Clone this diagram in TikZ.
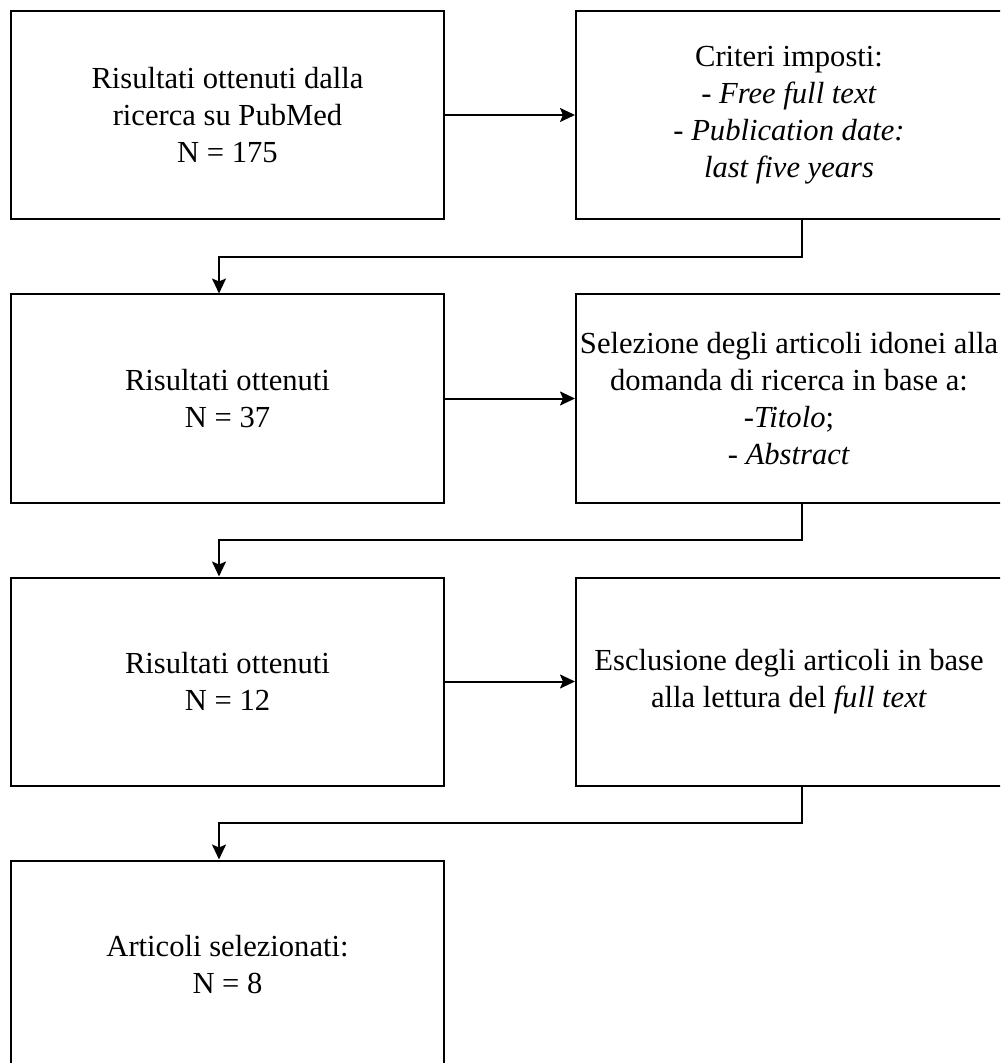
\documentclass[tikz,border=0pt]{standalone}
\usepackage{fontspec}
\setmainfont{Liberation Serif}
\usetikzlibrary{arrows.meta}
\begin{document}
\begin{tikzpicture}[x=0.5pt,y=-0.5pt,
  box/.style={draw,line width=1pt,rectangle,inner sep=0pt,align=center,
    font=\fontsize{15.3}{18.5}\selectfont,minimum height=104pt},
  lbox/.style={box,minimum width=216.5pt},
  rbox/.style={box,minimum width=213pt},
  arr/.style={draw,line width=1pt,-{Stealth[length=7.5pt,width=7pt,inset=1.5pt]}}]
\useasboundingbox (0,0) rectangle (1000,1063);
\clip (0,0) rectangle (1000,1063);
\node[lbox] (a1) at (227.5,115) {Risultati ottenuti dalla\\ricerca su PubMed\\N = 175};
\node[rbox] (b1) at (789,115) {Criteri imposti:\\\textit{- Free full text}\\\textit{- Publication date:}\\\textit{last five years}};
\node[lbox] (a2) at (227.5,398.5) {Risultati ottenuti\\N = 37};
\node[rbox] (b2) at (789,398.5) {Selezione degli articoli idonei alla\\domanda di ricerca in base a:\\\textit{-Titolo};\\\textit{- Abstract}};
\node[lbox] (a3) at (227.5,681.5) {Risultati ottenuti\\N = 12};
\node[rbox] (b3) at (789,681.5) {Esclusione degli articoli in base\\alla lettura del \textit{full text}};
\node[lbox] (a4) at (227.5,964.5) {Articoli selezionati:\\N = 8};
\draw[arr] (a1) -- (b1);
\draw[arr] (a2) -- (b2);
\draw[arr] (a3) -- (b3);
\draw[arr] ([xshift=6.5pt]b1.south) -- ([xshift=6.5pt]b1.south |- 0,257) -| ([xshift=-4.25pt]a2.north);
\draw[arr] ([xshift=6.5pt]b2.south) -- ([xshift=6.5pt]b2.south |- 0,540) -| ([xshift=-4.25pt]a3.north);
\draw[arr] ([xshift=6.5pt]b3.south) -- ([xshift=6.5pt]b3.south |- 0,823) -| ([xshift=-4.25pt]a4.north);
\end{tikzpicture}
\end{document}
